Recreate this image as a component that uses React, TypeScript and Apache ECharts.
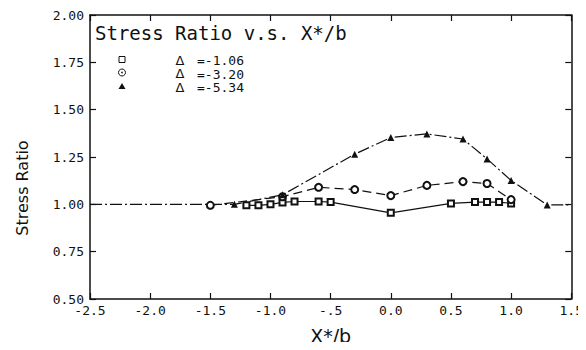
import React, { useEffect, useRef } from "react";
import * as echarts from "echarts";

const xTickValues = [-2.5, -2.0, -1.5, -1.0, -0.5, 0.0, 0.5, 1.0, 1.5];
const xTickLabels = ["-2.5", "-2.0", "-1.5", "-1.0", "-.5", "0.0", "0.5", "1.0", "1.5"];

const seriesNames = ["-1.06", "-3.20", "-5.34"];
const legendLabels = ["=-1.06", "=-3.20", "=-5.34"];

const squareX = [-1.2, -1.1, -1.0, -0.9, -0.8, -0.6, -0.5, 0.0, 0.5, 0.7, 0.8, 0.9, 1.0];
const squareY = [0.995, 0.995, 1.0, 1.01, 1.015, 1.015, 1.012, 0.955, 1.005, 1.012, 1.012, 1.012, 1.005];

const circleX = [-1.5, -0.9, -0.6, -0.3, 0.0, 0.3, 0.6, 0.8, 1.0];
const circleY = [0.995, 1.04, 1.09, 1.078, 1.046, 1.1, 1.12, 1.11, 1.025];

const triangleX = [-2.5, -1.3, -0.9, -0.3, 0.0, 0.3, 0.6, 0.8, 1.0, 1.3, 1.5];
const triangleY = [1.0, 1.0, 1.05, 1.265, 1.353, 1.372, 1.345, 1.24, 1.126, 0.997, 0.997];
// end points of the triangle curve carry no marker
const triangleNoMarker = [true, false, false, false, false, false, false, false, false, false, true];

const INK = "#111";
const MONO = "DejaVu Sans Mono";
const SANS = "DejaVu Sans";

export default function App() {
  const ref = useRef<HTMLDivElement>(null);

  useEffect(() => {
    if (!ref.current) return;
    const chart = echarts.init(ref.current, undefined, { renderer: "svg" });

    const pairs = (xs: number[], ys: number[]) => xs.map((x, i) => [x, ys[i]]);
    const triData = triangleX.map((x, i) =>
      triangleNoMarker[i]
        ? { value: [x, triangleY[i]], symbol: "none" }
        : { value: [x, triangleY[i]] }
    );

    const labelFor = (v: number) => {
      const idx = xTickValues.findIndex((t) => Math.abs(t - v) < 1e-6);
      return idx >= 0 ? xTickLabels[idx] : "";
    };

    const axisLine = { show: true, onZero: false, lineStyle: { color: INK, width: 1.5 } };
    const axisTick = { show: true, inside: true, length: 6, lineStyle: { color: INK, width: 1.2 } };

    const option: any = {
      animation: false,
      backgroundColor: "#fff",
      grid: { left: 90, right: 8, top: 15, bottom: 41, containLabel: false },
      xAxis: [
        {
          type: "value",
          min: -2.5,
          max: 1.5,
          interval: 0.5,
          position: "bottom",
          axisLine,
          axisTick,
          axisLabel: {
            show: true,
            formatter: (v: number) => labelFor(v),
            color: INK,
            fontFamily: MONO,
            fontSize: 13,
            margin: 5,
          },
          splitLine: { show: false },
          name: "X*/b",
          nameLocation: "middle",
          nameGap: 27,
          nameTextStyle: { color: INK, fontFamily: SANS, fontSize: 19 },
        },
        {
          type: "value",
          min: -2.5,
          max: 1.5,
          interval: 0.5,
          position: "top",
          axisLine,
          axisTick,
          axisLabel: { show: false },
          splitLine: { show: false },
        },
      ],
      yAxis: [
        {
          type: "value",
          min: 0.5,
          max: 2.0,
          interval: 0.25,
          position: "left",
          axisLine,
          axisTick,
          axisLabel: {
            show: true,
            formatter: (v: number) => v.toFixed(2),
            color: INK,
            fontFamily: MONO,
            fontSize: 13,
            margin: 6,
          },
          splitLine: { show: false },
        },
        {
          type: "value",
          min: 0.5,
          max: 2.0,
          interval: 0.25,
          position: "right",
          axisLine,
          axisTick,
          axisLabel: { show: false },
          splitLine: { show: false },
        },
      ],
      series: [
        {
          name: seriesNames[0],
          type: "line",
          data: pairs(squareX, squareY),
          symbol: "emptyRect",
          symbolSize: 6,
          itemStyle: { color: INK, borderColor: INK, borderWidth: 1 },
          lineStyle: { color: INK, width: 1.2, type: "solid" },
          z: 3,
        },
        {
          name: seriesNames[1],
          type: "line",
          data: pairs(circleX, circleY),
          symbol: "emptyCircle",
          symbolSize: 7,
          itemStyle: { color: INK, borderColor: INK, borderWidth: 1 },
          lineStyle: { color: INK, width: 1.2, type: [9, 5] },
          z: 3,
        },
        {
          name: seriesNames[2],
          type: "line",
          data: triData,
          symbol: "triangle",
          symbolSize: 7,
          itemStyle: { color: INK },
          lineStyle: { color: INK, width: 1.2, type: [12, 3, 2, 3] },
          z: 3,
        },
      ],
      graphic: [
        {
          type: "text",
          left: 95,
          top: 23,
          style: { text: "Stress Ratio v.s. X*/b", fill: INK, font: `19px "${MONO}"` },
        },
        {
          type: "text",
          x: 22,
          y: 188,
          rotation: Math.PI / 2,
          style: {
            text: "Stress Ratio",
            fill: INK,
            font: `16px "${SANS}"`,
            align: "center",
            verticalAlign: "middle",
          },
        },
        // legend markers
        { type: "rect", shape: { x: 119, y: 56.5, width: 6, height: 6 }, style: { fill: "#fff", stroke: INK, lineWidth: 1 } },
        { type: "circle", shape: { cx: 122, cy: 72.5, r: 3.5 }, style: { fill: "#fff", stroke: INK, lineWidth: 1 } },
        { type: "circle", shape: { cx: 122, cy: 72.5, r: 0.8 }, style: { fill: INK } },
        { type: "polygon", shape: { points: [[122, 83], [118.5, 89], [125.5, 89]] }, style: { fill: INK } },
        ...legendLabels.flatMap((lab, i) => [
          {
            type: "text",
            x: 180,
            y: 60 + i * 13.5,
            style: { text: "Δ", fill: INK, font: `13px "${SANS}"`, align: "center", verticalAlign: "middle" },
          },
          {
            type: "text",
            x: 197,
            y: 60.5 + i * 13.5,
            style: { text: lab, fill: INK, font: `13px "${MONO}"`, align: "left", verticalAlign: "middle" },
          },
        ]),
      ],
    };

    chart.setOption(option);
    return () => chart.dispose();
  }, []);

  return <div ref={ref} style={{ width: 586, height: 350, margin: -8 }} />;
}
